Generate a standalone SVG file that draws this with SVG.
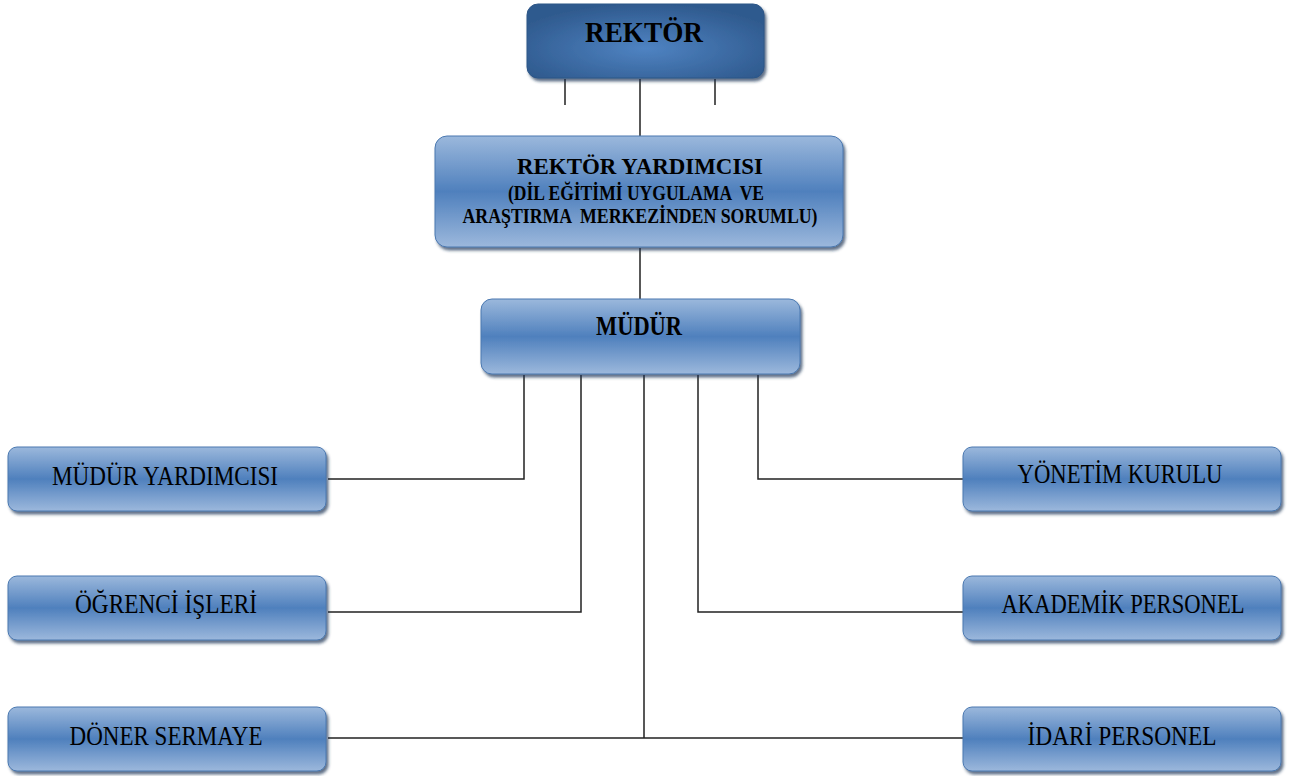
<svg xmlns="http://www.w3.org/2000/svg" width="1291" height="776" viewBox="0 0 1291 776">
<style>
.box{fill:url(#g);stroke:#4a78b0;stroke-width:1;filter:url(#sh)}
.top{fill:url(#rg);stroke:#2d5687;stroke-width:1;filter:url(#sh)}
.t{font-family:"Liberation Serif","Times New Roman",serif;fill:#000;text-anchor:middle}
.b{font-weight:bold}
.n{font-size:27px}
.c{fill:none;stroke:#222;stroke-width:1.5}
</style>
<defs>
<linearGradient id="g" x1="0" y1="0" x2="0" y2="1">
<stop offset="0" stop-color="#9bb8dc"/>
<stop offset="0.5" stop-color="#4f80bd"/>
<stop offset="1" stop-color="#9cb8dc"/>
</linearGradient>
<radialGradient id="rg" cx="0.5" cy="0.6" r="0.6">
<stop offset="0" stop-color="#4f83c2"/>
<stop offset="1" stop-color="#2f5a8e"/>
</radialGradient>
<filter id="sh" x="-5%" y="-10%" width="112%" height="130%">
<feDropShadow dx="2" dy="3" stdDeviation="1.5" flood-color="#1e3454" flood-opacity="0.7"/>
</filter>
</defs>
<g id="connectors">
<path class="c" d="M565 79V105M715 79V105M640 79V136M640 248V299"/>
<path class="c" d="M524 375V479H328"/>
<path class="c" d="M581 375V612H328"/>
<path class="c" d="M644 375V738M328 738H963"/>
<path class="c" d="M698 375V612H963"/>
<path class="c" d="M758 375V479H963"/>
</g>
<g id="rektor">
<rect class="top" x="527" y="4" width="237" height="74" rx="11"/>
<text class="t b" x="644" y="42" font-size="30" textLength="118" lengthAdjust="spacingAndGlyphs">REKTÖR</text>
</g>
<g id="rektor-yardimcisi">
<rect class="box" x="435" y="136" width="408" height="111" rx="12"/>
<text class="t b" x="640" y="174" font-size="24" textLength="246" lengthAdjust="spacingAndGlyphs">REKTÖR YARDIMCISI</text>
<text class="t b" x="636" y="200" font-size="22" textLength="256" lengthAdjust="spacingAndGlyphs" xml:space="preserve">(DİL EĞİTİMİ UYGULAMA  VE</text>
<text class="t b" x="640" y="223" font-size="22" textLength="355" lengthAdjust="spacingAndGlyphs" xml:space="preserve">ARAŞTIRMA  MERKEZİNDEN SORUMLU)</text>
</g>
<g id="mudur">
<rect class="box" x="481" y="299" width="319" height="75" rx="11"/>
<text class="t b" x="639" y="335" font-size="28" textLength="86" lengthAdjust="spacingAndGlyphs">MÜDÜR</text>
</g>
<g id="mudur-yardimcisi">
<rect class="box" x="8" y="447" width="318" height="64" rx="9"/>
<text class="t n" x="165" y="485" textLength="226" lengthAdjust="spacingAndGlyphs">MÜDÜR YARDIMCISI</text>
</g>
<g id="ogrenci-isleri">
<rect class="box" x="8" y="576" width="318" height="64" rx="9"/>
<text class="t n" x="166" y="613" textLength="182" lengthAdjust="spacingAndGlyphs">ÖĞRENCİ İŞLERİ</text>
</g>
<g id="doner-sermaye">
<rect class="box" x="8" y="707" width="318" height="64" rx="9"/>
<text class="t n" x="166" y="745" textLength="193" lengthAdjust="spacingAndGlyphs">DÖNER SERMAYE</text>
</g>
<g id="yonetim-kurulu">
<rect class="box" x="963" y="447" width="318" height="64" rx="9"/>
<text class="t n" x="1120" y="483" textLength="205" lengthAdjust="spacingAndGlyphs">YÖNETİM KURULU</text>
</g>
<g id="akademik-personel">
<rect class="box" x="963" y="576" width="318" height="64" rx="9"/>
<text class="t n" x="1123" y="613" textLength="243" lengthAdjust="spacingAndGlyphs">AKADEMİK PERSONEL</text>
</g>
<g id="idari-personel">
<rect class="box" x="963" y="707" width="318" height="64" rx="9"/>
<text class="t n" x="1122" y="745" textLength="189" lengthAdjust="spacingAndGlyphs">İDARİ PERSONEL</text>
</g>
</svg>
